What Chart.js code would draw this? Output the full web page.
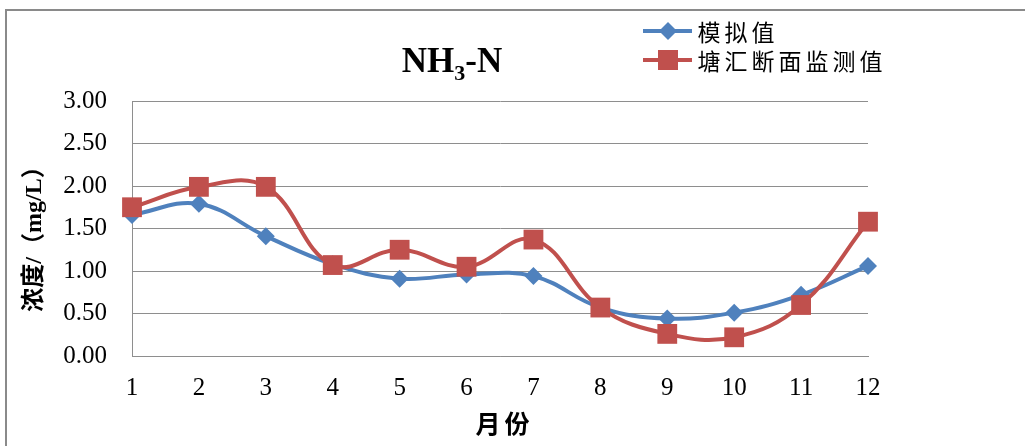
<!DOCTYPE html>
<html>
<head>
<meta charset="utf-8">
<script src="https://cdn.jsdelivr.net/npm/chart.js@4"></script>
<style>
  html, body { margin: 0; padding: 0; background: #fff; }
  #chart { display: block; }
</style>
</head>
<body>
<canvas id="chart" width="1025" height="446"></canvas>
<script>
var months = ['1', '2', '3', '4', '5', '6', '7', '8', '9', '10', '11', '12'];
var simulated = [1.66, 1.79, 1.41, 1.08, 0.91, 0.96, 0.94, 0.57, 0.44, 0.51, 0.72, 1.06];
var measured = [1.75, 1.99, 1.99, 1.07, 1.25, 1.05, 1.37, 0.57, 0.26, 0.22, 0.60, 1.58];
var seriesNames = ['模拟值', '塘汇断面监测值'];
var yTicks = [0, 0.5, 1, 1.5, 2, 2.5, 3];

var BLUE = '#4F81BD';
var RED = '#C0504D';
var GRID = '#8e8e8e';
var SERIF = '"Liberation Serif", "Times New Roman", serif';
var CJK = '"Noto Sans CJK SC", sans-serif';

// title, legend, axis titles and frame drawn by hand
var decor = {
    id: 'decor',
    afterDraw: function (chart) {
        var ctx = chart.ctx;
        ctx.save();

        // frame (top + left only, as in the picture)
        ctx.strokeStyle = '#8a8a8a';
        ctx.lineWidth = 2;
        ctx.beginPath();
        ctx.moveTo(6, 446);
        ctx.lineTo(6, 10);
        ctx.lineTo(1025, 10);
        ctx.stroke();

        // title NH3-N with subscript
        ctx.fillStyle = '#000';
        ctx.textBaseline = 'alphabetic';
        ctx.textAlign = 'left';
        var big = 'bold 35px ' + SERIF, small = 'bold 22px ' + SERIF;
        ctx.font = big; var w1 = ctx.measureText('NH').width, w3 = ctx.measureText('-N').width;
        ctx.font = small; var w2 = ctx.measureText('3').width;
        var x0 = 452 - (w1 + w2 + w3) / 2;
        ctx.font = big; ctx.fillText('NH', x0, 72);
        ctx.font = small; ctx.fillText('3', x0 + w1, 80);
        ctx.font = big; ctx.fillText('-N', x0 + w1 + w2, 72);

        // legend
        var rows = [31, 60];
        chart.data.datasets.forEach(function (ds, i) {
            var y = rows[i];
            ctx.strokeStyle = ds.borderColor;
            ctx.lineWidth = 4;
            ctx.beginPath();
            ctx.moveTo(643, y);
            ctx.lineTo(692, y);
            ctx.stroke();
            ctx.fillStyle = ds.borderColor;
            ctx.beginPath();
            if (ds.pointStyle === 'rectRot') {
                ctx.moveTo(668, y - 9); ctx.lineTo(677, y); ctx.lineTo(668, y + 9); ctx.lineTo(659, y);
                ctx.closePath();
            } else {
                ctx.rect(658, y - 10, 20, 20);
            }
            ctx.fill();
            ctx.fillStyle = '#000';
            ctx.font = '23px ' + CJK;
            ctx.textBaseline = 'middle';
            ctx.textAlign = 'center';
            var chars = ds.label.split('');
            chars.forEach(function (c, k) { ctx.fillText(c, 709 + k * 27, y + 1); });
        });

        // x axis title
        ctx.font = 'bold 25px ' + CJK;
        ctx.textAlign = 'center';
        ctx.textBaseline = 'middle';
        ctx.fillText('月', 488, 423);
        ctx.fillText('份', 517, 423);

        // y axis title (rotated)
        ctx.translate(35, 233);
        ctx.rotate(-Math.PI / 2);
        ctx.font = 'bold 24px ' + SERIF + ', ' + CJK;
        ctx.textAlign = 'center';
        ctx.fillText('浓度/（mg/L）', 0, 0);

        ctx.restore();
    }
};

new Chart(document.getElementById('chart').getContext('2d'), {
    type: 'line',
    data: {
        labels: months,
        datasets: [{
            label: seriesNames[0],
            data: simulated,
            borderColor: BLUE,
            backgroundColor: BLUE,
            pointBackgroundColor: BLUE,
            pointBorderWidth: 0,
            pointStyle: 'rectRot',
            pointRadius: 9,
            borderWidth: 4,
            tension: 0.4,
            order: 2
        }, {
            label: seriesNames[1],
            data: measured,
            borderColor: RED,
            backgroundColor: RED,
            pointBackgroundColor: RED,
            pointBorderWidth: 0,
            pointStyle: 'rect',
            pointRadius: 14,
            borderWidth: 4,
            tension: 0.4,
            order: 1
        }]
    },
    options: {
        responsive: false,
        animation: false,
        layout: { padding: { top: 101, right: 157, left: 0, bottom: 0 } },
        plugins: { legend: { display: false }, title: { display: false }, tooltip: { enabled: false } },
        scales: {
            x: {
                offset: false,
                grid: { display: false, drawTicks: false },
                border: { display: true, color: GRID, width: 1 },
                ticks: { color: '#000', font: { family: SERIF, size: 25 }, padding: 17, maxRotation: 0 },
                afterFit: function (s) { s.height = 90; }
            },
            y: {
                min: 0,
                max: 3,
                afterBuildTicks: function (s) { s.ticks = yTicks.map(function (v) { return { value: v }; }); },
                grid: { color: GRID, lineWidth: 1, drawTicks: false },
                border: { display: true, color: GRID, width: 1 },
                ticks: {
                    color: '#000',
                    font: { family: SERIF, size: 25 },
                    padding: 25,
                    callback: function (v) { return Number(v).toFixed(2); }
                },
                afterFit: function (s) { s.width = 132; }
            }
        }
    },
    plugins: [decor]
});
</script>
</body>
</html>
